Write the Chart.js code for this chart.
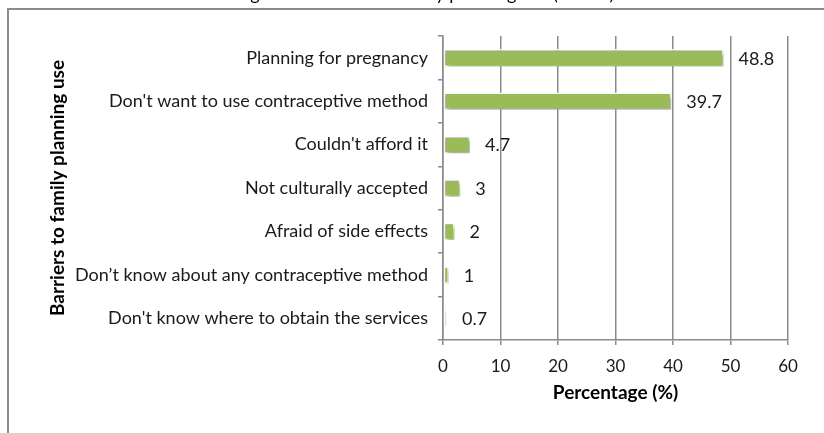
<!DOCTYPE html>
<html>
<head>
<meta charset="utf-8">
<script src="https://cdn.jsdelivr.net/npm/chart.js@4/dist/chart.umd.min.js"></script>
<style>
  html, body { margin: 0; padding: 0; background: #fff; overflow: hidden; }
  #wrap { width: 824px; height: 433px; position: relative; }
</style>
</head>
<body>
<div id="wrap"><canvas id="chart" width="824" height="433"></canvas></div>
<script>
// ---- data ----
const categories = [
  "Planning for pregnancy",
  "Don't want to use contraceptive method",
  "Couldn't afford it",
  "Not culturally accepted",
  "Afraid of side effects",
  "Don\u2019t know about any contraceptive method",
  "Don't know where to obtain the services"
];
const percentages = [48.8, 39.7, 4.7, 3, 2, 1, 0.7];
const xTicks = [0, 10, 20, 30, 40, 50, 60];
const titleText = "Figure 3: Barriers to family planning use (n=422)";
const xTitle = "Percentage (%)";
const yTitle = "Barriers to family planning use";

const FONT = "Lato";
const GRID = "#8a8a8a";

// outer frame + clipped title at the very top
const framePlugin = {
  id: "frame",
  beforeDraw(chart) {
    const ctx = chart.ctx;
    ctx.save();
    ctx.strokeStyle = "#8c8c8c";
    ctx.lineWidth = 2;
    ctx.strokeRect(8, 9, 1000, 1000);
    ctx.fillStyle = "#000";
    ctx.font = "18px " + FONT;
    ctx.textAlign = "center";
    ctx.textBaseline = "alphabetic";
    ctx.fillText(titleText, 425, 0);
    ctx.restore();
  }
};

// drop shadow under the bars
const shadowPlugin = {
  id: "shadow",
  beforeDatasetsDraw(chart) {
    const ctx = chart.ctx;
    ctx.save();
    ctx.shadowColor = "rgba(0,0,0,0.35)";
    ctx.shadowBlur = 4;
    ctx.shadowOffsetX = 2;
    ctx.shadowOffsetY = 3;
  },
  afterDatasetsDraw(chart) {
    chart.ctx.restore();
  }
};

// value labels to the right of each bar
const labelPlugin = {
  id: "valueLabels",
  afterDraw(chart) {
    const ctx = chart.ctx;
    const meta = chart.getDatasetMeta(0);
    ctx.save();
    ctx.fillStyle = "#1a1a1a";
    ctx.font = "18px " + FONT;
    ctx.textAlign = "left";
    ctx.textBaseline = "middle";
    meta.data.forEach((bar, i) => {
      ctx.fillText(String(percentages[i]), bar.x + 15, bar.y + 1);
    });
    ctx.restore();
  }
};

new Chart(document.getElementById("chart"), {
  type: "bar",
  data: {
    labels: categories,
    datasets: [{
      data: percentages,
      backgroundColor: "#9bbb59",
      borderColor: "#ffffff",
      borderWidth: 1.5,
      borderSkipped: false,
      categoryPercentage: 1,
      barPercentage: 0.4
    }]
  },
  options: {
    indexAxis: "y",
    responsive: false,
    animation: false,
    layout: { padding: { left: 44, top: 36, right: 36, bottom: 25 } },
    plugins: { legend: { display: false }, tooltip: { enabled: false } },
    scales: {
      x: {
        min: 0,
        max: 60,
        afterBuildTicks(scale) { scale.ticks = xTicks.map(v => ({ value: v })); },
        afterFit(scale) { scale.height = 433 - 25 - 340; },
        grid: { color: GRID, lineWidth: 1.5, tickLength: 5, drawOnChartArea: true },
        border: { display: true, color: GRID, width: 1.5 },
        ticks: { color: "#1a1a1a", font: { family: FONT, size: 17 }, padding: 11 },
        title: {
          display: true,
          text: xTitle,
          color: "#000",
          font: { family: FONT, size: 19, weight: "bold" },
          padding: { top: 0, bottom: 4 }
        }
      },
      y: {
        afterFit(scale) { scale.width = 443 - 44; },
        grid: { offset: true, color: GRID, lineWidth: 1.5, tickLength: 5, drawOnChartArea: false },
        border: { display: true, color: GRID, width: 1.5 },
        ticks: { color: "#1a1a1a", font: { family: FONT, size: 18 }, padding: 10, autoSkip: false },
        title: {
          display: true,
          text: yTitle,
          color: "#000",
          font: { family: FONT, size: 19, weight: "bold" },
          padding: { top: 2, bottom: 4 }
        }
      }
    }
  },
  plugins: [framePlugin, shadowPlugin, labelPlugin]
});
</script>
</body>
</html>
